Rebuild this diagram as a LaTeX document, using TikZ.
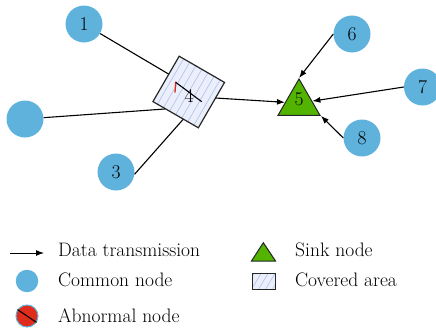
\documentclass[tikz,border=0pt]{standalone}
\usetikzlibrary{arrows.meta,shapes.geometric}
\definecolor{nodeblue}{RGB}{94,178,220}
\definecolor{sinkgreen}{RGB}{82,180,0}
\definecolor{abred}{RGB}{224,44,28}
\definecolor{coverfill}{RGB}{234,239,251}
\definecolor{hatchcol}{RGB}{176,192,232}
\newcommand\bigtxt{\fontsize{19.5}{23}\selectfont}
\begin{document}
\begin{tikzpicture}[x=1pt,y=-1pt,
  common/.style={circle,fill=nodeblue,minimum size=37pt,inner sep=0pt,font=\bigtxt},
  coverbox/.style={rectangle,fill=coverfill,minimum size=52pt,inner sep=0pt},
  sink/.style={regular polygon,regular polygon sides=3,fill=sinkgreen,draw=black!85,line width=1pt,minimum size=48.5pt,inner sep=0pt},
  numlabel/.style={inner sep=0pt,font=\bigtxt},
  legtext/.style={anchor=west,inner sep=0pt,font=\bigtxt},
  link/.style={line width=1.1pt,black},
  arr/.style={line width=1.1pt,black,-{Latex[length=8pt,width=6pt]}},
  hatchline/.style={hatchcol,line width=0.6pt},
  outline/.style={line width=1.2pt,black!85}]
\useasboundingbox (0,0) rectangle (436,332);

% common nodes
\node[common] (n1) at (84,24) {1};
\node[common] (n2) at (25,119) {};
\node[common] (n3) at (116,172) {3};
\node[common] (n6) at (352,34) {6};
\node[common] (n7) at (422.5,87) {7};
\node[common] (n8) at (362,138) {8};

% covered area node 4
\node[coverbox,rotate=-30] (n4) at (188.75,92) {};
\begin{scope}
  \clip (n4.north west) -- (n4.north east) -- (n4.south east) -- (n4.south west) -- cycle;
  \foreach \i in {-8,...,8}
    \draw[hatchline] ({188.75+\i*8.1-28},{92+48.5}) -- ({188.75+\i*8.1+28},{92-48.5});
\end{scope}
\draw[outline] (n4.north west) -- (n4.north east) -- (n4.south east) -- (n4.south west) -- cycle;
\draw[abred,line width=1.3pt] (175.7,81.7) -- (175,92.7);
\draw[line width=1.1pt] (175.7,82.3) -- (201.7,101.7);
\node[numlabel] (l4) at (189,95.5) {4};

% sink node 5
\node[sink] (n5) at (299,103.2) {};
\node[numlabel] (l5) at (299,99.2) {5};

% connectors
\coordinate (c1) at (168.5,74);
\coordinate (c2) at (165,109);
\coordinate (c3) at (183,119.5);
\coordinate (c45) at (215.5,98);
\draw[link] (n1) -- (c1);
\draw[link] (n2) -- (c2);
\draw[link] (n3.-7) -- (c3);
\draw[arr] (c45) -- (n5);
\draw[arr] (n6.west) -- (n5.corner 1);
\draw[arr] (n7.west) -- (n5);
\draw[arr] (n8.west) -- (n5.corner 3);

% legend
\coordinate (la1) at (10,253);
\coordinate (la2) at (44,253);
\draw[arr,line width=1pt] (la1) -- (la2);
\node[legtext] (t1) at (58,250) {Data transmission};

\node[circle,fill=nodeblue,minimum size=22.5pt,inner sep=0pt] (lc) at (27,281) {};
\node[legtext] (t2) at (58,280) {Common node};

\node[circle,fill=abred,draw=nodeblue,line width=1pt,minimum size=22pt,inner sep=0pt] (la) at (27,316) {};
\draw[line width=1.1pt] (la.146) -- (la.-34);
\node[legtext] (t3) at (58,316) {Abnormal node};

\draw[fill=sinkgreen,draw=black!85,line width=1pt] (263.3,242.7) -- (275.5,261) -- (251.5,261) -- cycle;
\node[legtext] (t4) at (295,250) {Sink node};

\fill[coverfill] (252,273) rectangle (275,289);
\begin{scope}
  \clip (252,273) rectangle (275,289);
  \foreach \i in {-3,...,3}
    \draw[hatchline] ({263.5+\i*7-6},{281+10}) -- ({263.5+\i*7+6},{281-10});
\end{scope}
\draw[outline,line width=1pt] (252,273) rectangle (275,289);
\node[legtext] (t5) at (295,280) {Covered area};
\end{tikzpicture}
\end{document}
